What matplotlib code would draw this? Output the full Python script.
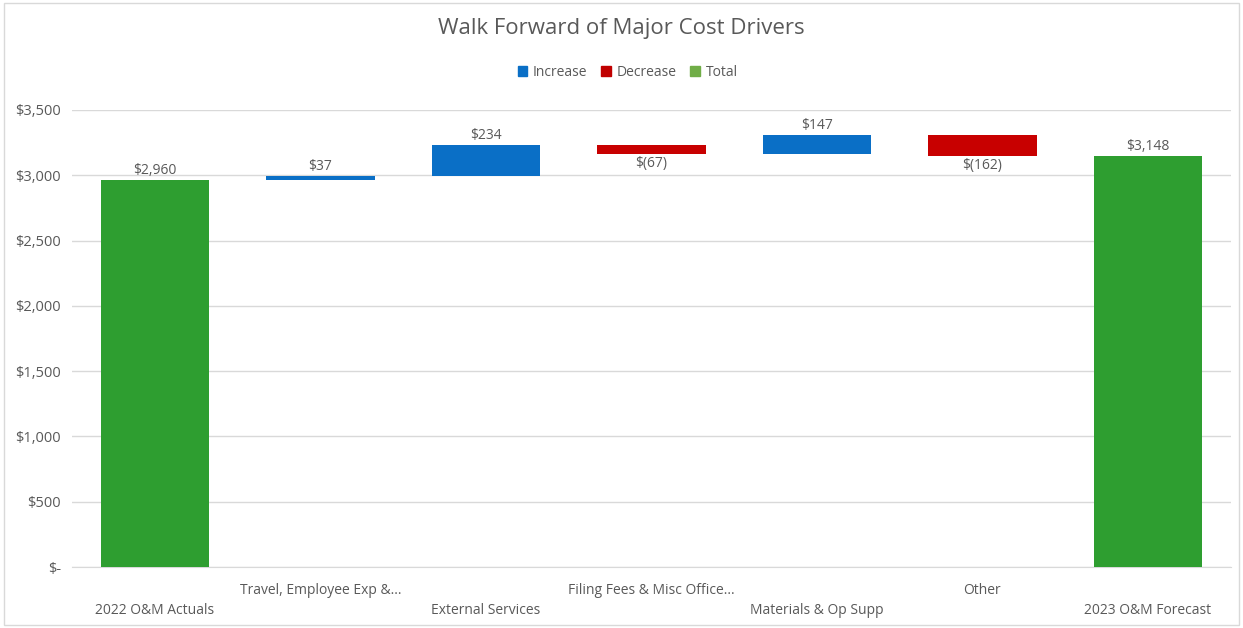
import numpy as np
from matplotlib import pyplot as plt
from matplotlib.patches import Patch, Rectangle

plt.rcParams['font.family'] = ['Open Sans', 'DejaVu Sans']

categories = ["2022 O&M Actuals", "Travel, Employee Exp &...", "External Services",
              "Filing Fees & Misc Office...", "Materials & Op Supp", "Other",
              "2023 O&M Forecast"]
changes = [2960, 37, 234, -67, 147, -162, 3148]
is_total = [True, False, False, False, False, False, True]
labels = ["$2,960", "$37", "$234", "$(67)", "$147", "$(162)", "$3,148"]

yticks = [0, 500, 1000, 1500, 2000, 2500, 3000, 3500]
ytick_labels = ["$-", "$500", "$1,000", "$1,500", "$2,000", "$2,500", "$3,000", "$3,500"]

c_inc, c_dec, c_tot = '#0a6fc6', '#c80000', '#2e9e30'
c_text = '#595959'

fig = plt.figure(figsize=(12.43, 6.28), dpi=100)
ax = fig.add_axes([0.058, 0.097, 0.932, 0.728])

# running total for the floating bars
bottoms, heights, colors = [], [], []
running = 0
for v, tot in zip(changes, is_total):
    if tot:
        bottoms.append(0)
        heights.append(v)
        colors.append(c_tot)
        running = v
    else:
        bottoms.append(running if v >= 0 else running + v)
        heights.append(abs(v))
        colors.append(c_inc if v >= 0 else c_dec)
        running += v

x = np.arange(len(categories))
ax.bar(x, heights, bottom=bottoms, width=0.655, color=colors, zorder=3)

for i in range(len(x)):
    if is_total[i] or changes[i] >= 0:
        ax.text(x[i], bottoms[i] + heights[i] + 15, labels[i], ha='center', va='bottom',
                fontsize=10, color=c_text)
    else:
        ax.text(x[i], bottoms[i] - 15, labels[i], ha='center', va='top',
                fontsize=10, color=c_text)

ax.set_xlim(-0.5, len(categories) - 0.5)
ax.set_ylim(0, 3500)
ax.set_yticks(yticks)
ax.set_yticklabels(ytick_labels, fontsize=10.5, color=c_text)
ax.tick_params(axis='y', length=0, pad=8)
ax.set_xticks(x)
ax.set_xticklabels([])
ax.tick_params(axis='x', length=0)

# staggered category labels
for i, name in enumerate(categories):
    yoff = -0.095 if i % 2 == 0 else -0.052
    ax.text(x[i], yoff, name, transform=ax.get_xaxis_transform(), ha='center',
            va='center', fontsize=10, color=c_text)

ax.grid(axis='y', color='#d9d9d9', linewidth=1, zorder=0)
for s in ['top', 'right', 'left']:
    ax.spines[s].set_visible(False)
ax.spines['bottom'].set_color('#d9d9d9')

fig.text(0.5, 0.955, "Walk Forward of Major Cost Drivers", ha='center', va='center',
         fontsize=16, color=c_text)

handles = [Patch(color=c_inc, label='Increase'), Patch(color='#c00000', label='Decrease'),
           Patch(color='#70ad47', label='Total')]
fig.legend(handles=handles, loc='center', bbox_to_anchor=(0.505, 0.885), ncol=3,
           frameon=False, fontsize=10, handlelength=0.7, handleheight=0.7,
           handletextpad=0.4, columnspacing=1.0, labelcolor=c_text)

fig.patches.append(Rectangle((0.003, 0.004), 0.994, 0.991, transform=fig.transFigure,
                             fill=False, edgecolor='#d9d9d9', linewidth=1))

plt.savefig('out.png', dpi=100)
